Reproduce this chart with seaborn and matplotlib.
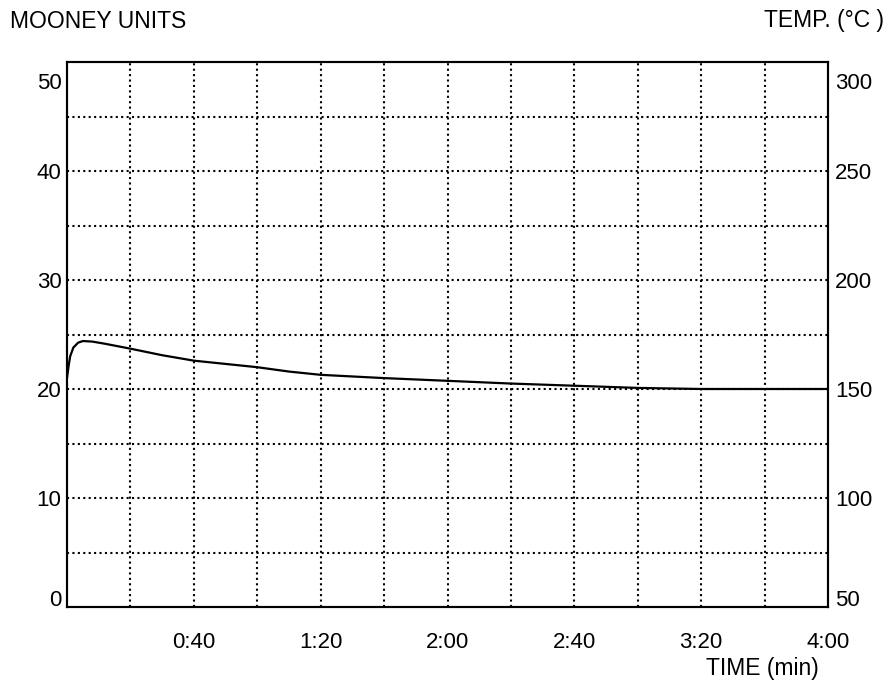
import matplotlib
matplotlib.use("Agg")
import matplotlib.pyplot as plt
import matplotlib.transforms as mtransforms
import seaborn as sns
import pandas as pd

# Data
time_s = [0, 0.5, 1, 2, 3.5, 5, 8, 12, 20, 30, 40, 50, 60, 70, 80, 100, 120, 140, 160, 180, 200, 220, 240]
mooney = [21.0, 22.1, 23.0, 23.8, 24.25, 24.4, 24.35, 24.15, 23.7, 23.1, 22.6, 22.3, 22.0, 21.6, 21.3,
          21.0, 20.75, 20.5, 20.3, 20.1, 20.0, 20.0, 20.0]
x_tick_pos = [40, 80, 120, 160, 200, 240]
x_tick_labels = ["0:40", "1:20", "2:00", "2:40", "3:20", "4:00"]
y_ticks = [0, 10, 20, 30, 40, 50]
temp_ticks = [50, 100, 150, 200, 250, 300]

sns.set_theme(style="white")
plt.rcParams['font.family'] = ['Liberation Sans', 'DejaVu Sans']
plt.rcParams['text.color'] = 'black'
plt.rcParams['xtick.color'] = 'black'
plt.rcParams['ytick.color'] = 'black'

FS = 16

fig = plt.figure(figsize=(8.9, 6.87), dpi=100)
ax = fig.add_axes([67/890, 1 - 607/687, (828-67)/890, (607-62)/687])

df = pd.DataFrame({"t": time_s, "m": mooney})
sns.lineplot(data=df, x="t", y="m", ax=ax, color="black", linewidth=1.6)

ax.set_xlim(0, 240)
ax.set_ylim(0, 50)

# dotted grid
for xv in range(20, 240, 20):
    ax.axvline(xv, color="black", linestyle=(0, (1, 1.6)), linewidth=1.5, zorder=0)
for yv in range(5, 50, 5):
    ax.axhline(yv, color="black", linestyle=(0, (1, 1.6)), linewidth=1.5, zorder=0)

ax.set_xticks(x_tick_pos)
ax.set_xticklabels(x_tick_labels, fontsize=FS)
ax.set_yticks(y_ticks)
ax.set_yticklabels([str(v) for v in y_ticks], fontsize=FS)
ax.tick_params(axis="y", length=0, pad=4)
ax.tick_params(axis="x", length=0, pad=18)
ax.set_xlabel("")
ax.set_ylabel("")
for s in ax.spines.values():
    s.set_color("black")
    s.set_linewidth(1.5)

ax2 = ax.twinx()
ax2.set_ylim(50, 300)
ax2.set_yticks(temp_ticks)
ax2.set_yticklabels([str(v) for v in temp_ticks], fontsize=FS)
ax2.tick_params(axis="y", length=0, pad=5)
for s in ax2.spines.values():
    s.set_color("black")
    s.set_linewidth(1.5)

# shift end labels inward like the printed chart
up = mtransforms.ScaledTranslation(0, 9/100, fig.dpi_scale_trans)
down = mtransforms.ScaledTranslation(0, -19/100, fig.dpi_scale_trans)
for a in (ax, ax2):
    labs = a.get_yticklabels()
    labs[0].set_transform(labs[0].get_transform() + up)
    labs[-1].set_transform(labs[-1].get_transform() + down)

fig.text(10/890, 1 - 21/687, "MOONEY UNITS", fontsize=FS + 0.5, ha="left", va="center")
fig.text(884/890, 1 - 21/687, "TEMP. (°C )", fontsize=FS + 0.5, ha="right", va="center")
fig.text(762/890, 1 - 668/687, "TIME (min)", fontsize=FS + 0.5, ha="center", va="center")

fig.savefig("out.png", dpi=100)
